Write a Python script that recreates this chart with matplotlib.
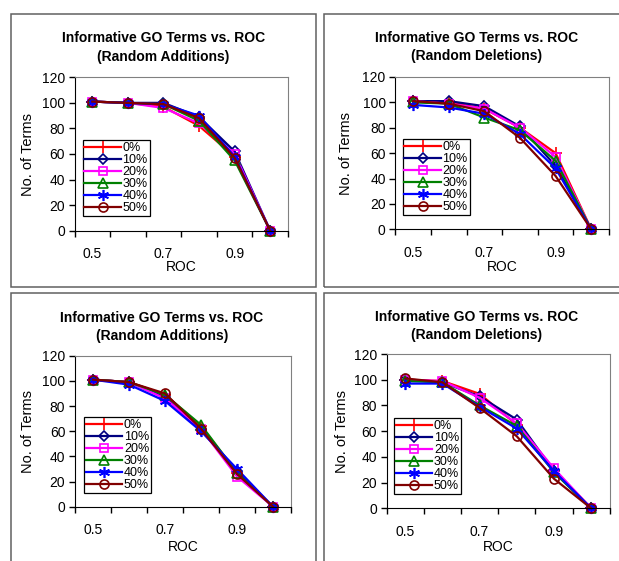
import matplotlib
matplotlib.use("Agg")
import matplotlib.pyplot as plt
from matplotlib.patches import Rectangle

plt.rcParams['font.family'] = ['Liberation Sans', 'DejaVu Sans']

roc = [0.5, 0.6, 0.7, 0.8, 0.9, 1.0]
roc_labels = ['0.5', '', '0.7', '', '0.9', '']
levels = ['0%', '10%', '20%', '30%', '40%', '50%']

additions_top = [
    [101, 100, 97, 82, 58, 0],
    [101, 100, 100, 89, 62, 0],
    [101, 100, 96, 84, 60, 0],
    [101, 100, 99, 86, 55, 0],
    [101, 100, 99, 90, 58, 0],
    [101, 100, 99, 88, 57, 0],
]
deletions_top = [
    [101, 100, 95, 80, 60, 0],
    [101, 101, 97, 81, 50, 0],
    [101, 99, 95, 80, 57, 0],
    [100, 99, 88, 78, 54, 0],
    [98, 96, 91, 75, 48, 0],
    [101, 99, 93, 72, 42, 0],
]
additions_bottom = [
    [101, 99, 89, 64, 27, 0],
    [101, 99, 87, 61, 28, 0],
    [101, 99, 86, 62, 24, 0],
    [101, 99, 89, 65, 27, 0],
    [101, 97, 84, 60, 30, 0],
    [101, 99, 90, 62, 26, 0],
]
deletions_bottom = [
    [100, 99, 89, 65, 30, 0],
    [100, 98, 87, 69, 29, 0],
    [100, 99, 86, 66, 31, 0],
    [99, 98, 80, 64, 28, 0],
    [97, 97, 79, 62, 29, 0],
    [101, 98, 78, 56, 23, 0],
]

colors = ['#ff0000', '#000080', '#ff00ff', '#008000', '#0000ff', '#800000']
markers = ['+', 'D', 's', '^', (6, 2, 0), 'o']
marker_sizes = [9, 5, 6, 6.5, 8, 6.5]

W, H = 619, 561
fig = plt.figure(figsize=(W / 100, H / 100), dpi=100)


def box(x0, y0, x1, y1):
    # pixel box (top-left origin) -> figure fraction rect
    return [x0 / W, 1 - y1 / H, (x1 - x0) / W, (y1 - y0) / H]


def drawPanel(series, subtitle, frame, plot, legend_at, title_x, title_y, ylab_x, xlab_y):
    fig.patches.append(Rectangle((frame[0] / W, 1 - frame[3] / H),
                                 (frame[2] - frame[0]) / W, (frame[3] - frame[1]) / H,
                                 transform=fig.transFigure, fill=False,
                                 edgecolor='#606060', linewidth=1.1))

    ax = fig.add_axes(box(*plot))
    xs = range(len(roc))
    for vals, lab, c, m, ms in zip(series, levels, colors, markers, marker_sizes):
        ax.plot(xs, vals, color=c, linewidth=1.6, marker=m, markersize=ms,
                markerfacecolor='none', markeredgecolor=c, markeredgewidth=1.2,
                label=lab, clip_on=False)

    ax.set_xlim(-0.5, len(roc) - 0.5)
    ax.set_ylim(0, 120)
    ax.set_yticks(range(0, 121, 20))
    ax.set_xticks([i - 0.5 for i in range(len(roc) + 1)])
    ax.set_xticklabels([])
    ax.set_xticks(list(xs), minor=True)
    ax.set_xticklabels(roc_labels, minor=True)
    ax.tick_params(axis='x', which='major', direction='out', length=4, width=1)
    ax.tick_params(axis='x', which='minor', length=0, pad=12, labelsize=10)
    ax.tick_params(axis='y', direction='out', length=4, width=1, pad=3, labelsize=10)

    for side in ['top', 'right']:
        ax.spines[side].set_color('#808080')
    for side in ['left', 'bottom']:
        ax.spines[side].set_color('#000000')

    fig.text(title_x / W, 1 - title_y / H,
             'Informative GO Terms vs. ROC\n(' + subtitle + ')',
             ha='center', va='center', fontsize=10, fontweight='bold', linespacing=1.4)
    fig.text(ylab_x / W, 1 - ((plot[1] + plot[3]) / 2) / H, 'No. of Terms',
             rotation=90, ha='center', va='center', fontsize=10.5)
    fig.text(((plot[0] + plot[2]) / 2) / W, 1 - xlab_y / H, 'ROC',
             ha='center', va='center', fontsize=10)

    ax.legend(loc='upper left', bbox_to_anchor=(legend_at[0] / W, 1 - legend_at[1] / H),
              bbox_transform=fig.transFigure, fontsize=9, frameon=True,
              fancybox=False, edgecolor='#000000', framealpha=1,
              borderpad=0.15, borderaxespad=0, labelspacing=0,
              handlelength=2.9, handletextpad=0.15)
    ax.get_legend().get_frame().set_linewidth(0.9)


drawPanel(additions_top, 'Random Additions', (11, 14, 316, 287),
          (74.5, 77.3, 288, 230.7), (82.5, 140), 163.5, 47.5, 28.5, 267)
drawPanel(deletions_top, 'Random Deletions', (323.5, 14, 650, 287),
          (395.4, 77, 609, 229.3), (402.5, 139), 476.7, 47.2, 346, 266.7)
drawPanel(additions_bottom, 'Random Additions', (11, 292.5, 316, 600),
          (75, 355.7, 291, 506.7), (84, 417), 162, 327, 28.5, 546.7)
drawPanel(deletions_bottom, 'Random Deletions', (323.5, 292.5, 650, 600),
          (386.7, 354, 609.7, 508.3), (394, 418), 476.7, 326.2, 341.7, 546.7)

fig.savefig('out.png', dpi=100)
